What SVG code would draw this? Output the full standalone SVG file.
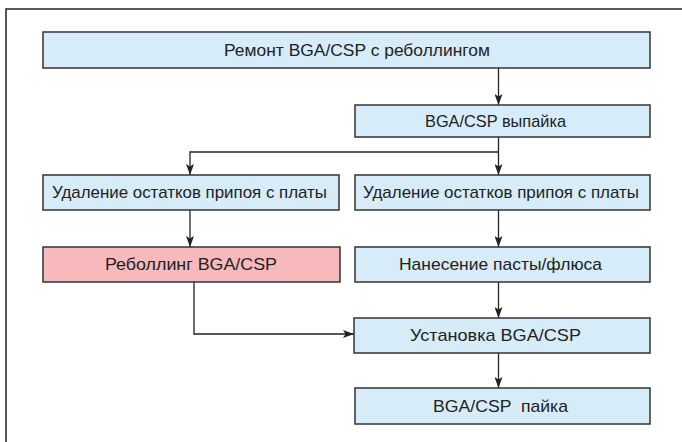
<svg xmlns="http://www.w3.org/2000/svg" width="682" height="442" viewBox="0 0 682 442">
<defs>
<marker id="ah" viewBox="0 0 11 8" refX="11" refY="4" markerWidth="11" markerHeight="8" markerUnits="userSpaceOnUse" orient="auto">
<path d="M0,0 L11,4 L0,8 L2.5,4 Z" fill="#222"/>
</marker>
<style>
.box{stroke:#333;stroke-width:1.5}
.blue{fill:#d6ecf8}
.pink{fill:#f7b9bb}
.t{font-family:"Liberation Sans",Arial,sans-serif;font-size:17px;fill:#222;text-anchor:middle;dominant-baseline:central}
.c{fill:none;stroke:#222;stroke-width:1.3}
</style>
</defs>
<rect width="682" height="442" fill="#fff"/>
<path d="M6,442 V9 H682" fill="none" stroke="#222" stroke-width="1.5"/>
<g id="connectors">
<path class="c" d="M498.5,68 V105" marker-end="url(#ah)"/>
<path class="c" d="M498.5,137 V175" marker-end="url(#ah)"/>
<path class="c" d="M498.5,152 H190 V175" marker-end="url(#ah)"/>
<path class="c" d="M190,210 V247" marker-end="url(#ah)"/>
<path class="c" d="M498.5,210 V247" marker-end="url(#ah)"/>
<path class="c" d="M498.5,282 V318" marker-end="url(#ah)"/>
<path class="c" d="M194,282 V334 H354" marker-end="url(#ah)"/>
<path class="c" d="M498.5,353 V388" marker-end="url(#ah)"/>
</g>
<g id="n1"><rect class="box blue" x="43" y="32" width="607" height="36"/><text class="t" x="357" y="50" textLength="266" lengthAdjust="spacingAndGlyphs">Ремонт BGA/CSP с реболлингом</text></g>
<g id="n2"><rect class="box blue" x="355" y="105" width="295" height="32"/><text class="t" x="495.5" y="121" textLength="141" lengthAdjust="spacingAndGlyphs">BGA/CSP выпайка</text></g>
<g id="n3"><rect class="box blue" x="43" y="175" width="296" height="35"/><text class="t" x="189.5" y="192.5" textLength="275" lengthAdjust="spacingAndGlyphs">Удаление остатков припоя с платы</text></g>
<g id="n4"><rect class="box blue" x="355" y="175" width="295" height="35"/><text class="t" x="501" y="192.5" textLength="276" lengthAdjust="spacingAndGlyphs">Удаление остатков припоя с платы</text></g>
<g id="n5"><rect class="box pink" x="43" y="247" width="297" height="35"/><text class="t" x="191" y="264.5" textLength="172" lengthAdjust="spacingAndGlyphs">Реболлинг BGA/CSP</text></g>
<g id="n6"><rect class="box blue" x="355" y="247" width="295" height="35"/><text class="t" x="500.5" y="264.5" textLength="203" lengthAdjust="spacingAndGlyphs">Нанесение пасты/флюса</text></g>
<g id="n7"><rect class="box blue" x="354" y="318" width="296" height="35"/><text class="t" x="495.5" y="335.5" textLength="171" lengthAdjust="spacingAndGlyphs">Установка BGA/CSP</text></g>
<g id="n8"><rect class="box blue" x="355" y="388" width="295" height="36"/><text class="t" x="500.5" y="406" textLength="135" lengthAdjust="spacingAndGlyphs" xml:space="preserve">BGA/CSP  пайка</text></g>
</svg>
